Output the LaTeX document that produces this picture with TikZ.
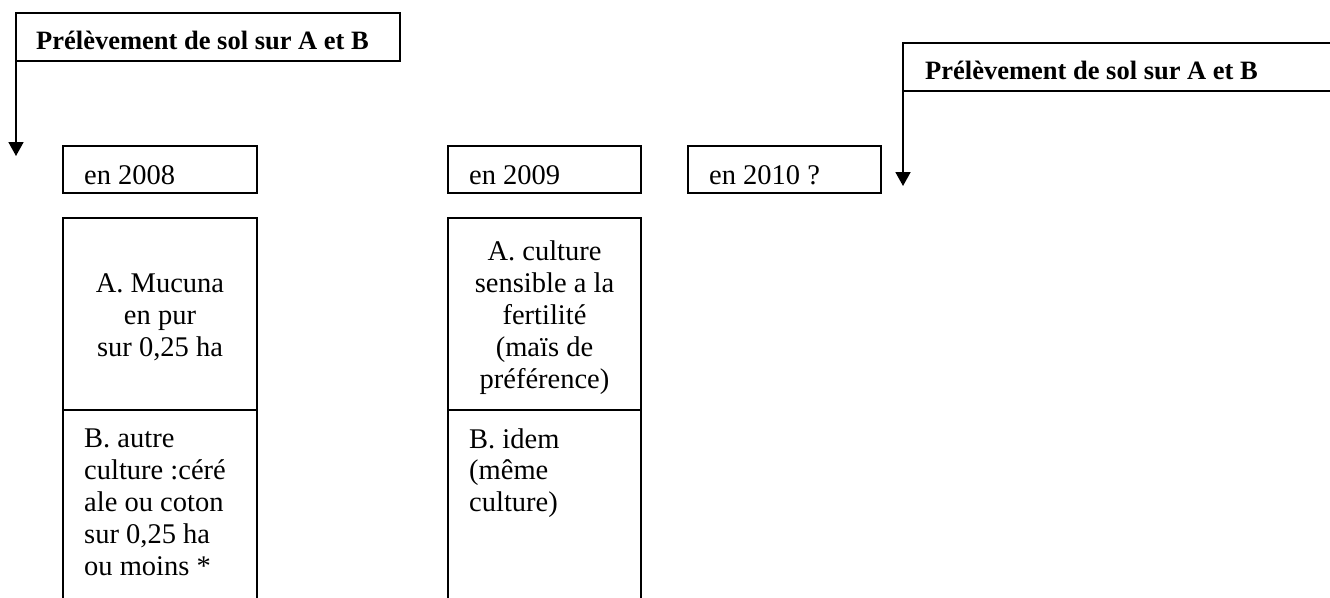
\documentclass[tikz,border=0pt]{standalone}
\usepackage{fontspec}
\setmainfont{Liberation Serif}
\usetikzlibrary{arrows.meta}
\begin{document}
\begin{tikzpicture}[x=1pt,y=-1pt,
  box/.style={draw,line width=1.8pt,inner sep=0pt,outer sep=0pt,anchor=north west},
  txt/.style={inner sep=0pt,font=\fontsize{28.5}{31.8}\selectfont},
  head/.style={inner sep=0pt,font=\fontsize{26.5}{30}\selectfont\bfseries},
  edge/.style={line width=1.8pt},
  arr/.style={line width=1.8pt,-{Triangle[length=14pt,width=15pt]}}]
\useasboundingbox (0,0) rectangle (1330,597);
% header boxes
\node[box,minimum width=384pt,minimum height=48pt] (h1) at (16,13) {};
\node[head,anchor=base west] (h1t) at (36,49) {Prélèvement de sol sur A et B};
\coordinate (h2a) at (1332,43);
\coordinate (h2b) at (903,43);
\coordinate (h2c) at (903,91);
\coordinate (h2d) at (1332,91);
\draw[edge] (h2a) -- (h2b) -- (h2c) -- (h2d);
\node[head,anchor=base west] (h2t) at (925,79) {Prélèvement de sol sur A et B};
% arrows
\coordinate (t1) at (16,156);
\coordinate (t2) at (903,186);
\draw[arr] (h1.south west) -- (t1);
\draw[arr] (h2c) -- (t2);
% year boxes
\node[box,minimum width=194pt,minimum height=47pt] (y08) at (63,146) {};
\node[box,minimum width=193pt,minimum height=47pt] (y09) at (448,146) {};
\node[box,minimum width=193pt,minimum height=47pt] (y10) at (688,146) {};
\node[txt,anchor=base west] (y08t) at (84,184) {en 2008};
\node[txt,anchor=base west] (y09t) at (469,184) {en 2009};
\node[txt,anchor=base west] (y10t) at (709,184) {en 2010 ?};
% A boxes
\node[box,minimum width=194pt,minimum height=192pt] (a08) at (63,218) {};
\node[box,minimum width=193pt,minimum height=192pt] (a09) at (448,218) {};
\node[txt,anchor=base,align=center] (a08t) at (160,356) {A. Mucuna\\en pur\\sur 0,25 ha};
\node[txt,anchor=base,align=center] (a09t) at (544.5,388) {A. culture\\sensible a la\\fertilité\\(maïs de\\préférence)};
% B boxes (open at the bottom)
\coordinate (b08l) at (63,600);
\coordinate (b08r) at (257,600);
\coordinate (b09l) at (448,600);
\coordinate (b09r) at (641,600);
\draw[edge] (a08.south west) -- (b08l);
\draw[edge] (a08.south east) -- (b08r);
\draw[edge] (a09.south west) -- (b09l);
\draw[edge] (a09.south east) -- (b09r);
\node[txt,anchor=base west,align=left] (b08t) at (84,575) {B. autre\\culture :céré\\ale ou coton\\sur 0,25 ha\\ou moins *};
\node[txt,anchor=base west,align=left] (b09t) at (469,511.6) {B. idem\\(même\\culture)};
\end{tikzpicture}
\end{document}
